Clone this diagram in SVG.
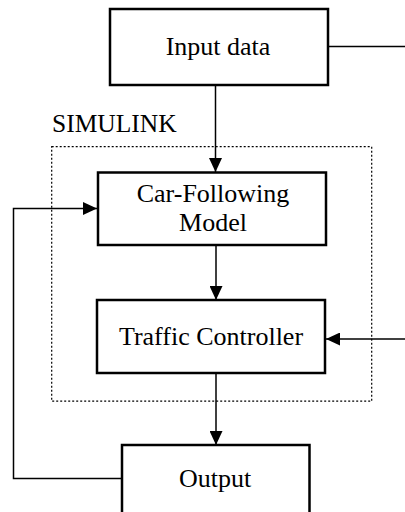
<svg xmlns="http://www.w3.org/2000/svg" width="405" height="512" viewBox="0 0 405 512">
  <style>
    .box { fill: #ffffff; stroke: #000000; stroke-width: 2.5; }
    .lbl { font-family: "Liberation Serif", "Times New Roman", serif; font-size: 26px; fill: #000000; text-anchor: middle; }
    .wire { fill: none; stroke: #000000; stroke-width: 1.5; }
    .frame { fill: none; stroke: #000000; stroke-width: 1.2; stroke-dasharray: 2 2; }
  </style>
  <defs>
    <marker id="arrowBig" viewBox="0 0 14 13" refX="14" refY="6.5" markerWidth="14" markerHeight="13" markerUnits="userSpaceOnUse" orient="auto">
      <path d="M0,0 L14,6.5 L0,13 Z" fill="#000000"/>
    </marker>
  </defs>

  <rect x="0" y="0" width="405" height="512" fill="#ffffff"/>

  <!-- SIMULINK subsystem frame -->
  <g id="simulink">
    <rect class="frame" x="51.7" y="146.7" width="320" height="254.5"/>
    <text x="52" y="132" font-family="Liberation Serif, Times New Roman, serif" font-size="25.5px">SIMULINK</text>
  </g>

  <!-- connectors -->
  <g id="connectors">
    <line class="wire" x1="328" y1="46.5" x2="405" y2="46.5"/>
    <line class="wire" x1="215.5" y1="85" x2="215.5" y2="172" marker-end="url(#arrowBig)"/>
    <line class="wire" x1="216" y1="245" x2="216" y2="300" marker-end="url(#arrowBig)"/>
    <line class="wire" x1="405" y1="339" x2="326" y2="339" marker-end="url(#arrowBig)"/>
    <line class="wire" x1="216" y1="373" x2="216" y2="445" marker-end="url(#arrowBig)"/>
    <polyline class="wire" points="122,478.5 13.5,478.5 13.5,208.5 97,208.5" marker-end="url(#arrowBig)"/>
  </g>

  <g id="input-data">
    <rect class="box" x="110" y="9" width="218" height="76"/>
    <text class="lbl" x="218" y="55">Input data</text>
  </g>

  <g id="car-following">
    <rect class="box" x="98" y="172.5" width="228" height="72.5"/>
    <text class="lbl" x="213" y="202">Car-Following</text>
    <text class="lbl" x="213" y="231">Model</text>
  </g>

  <g id="traffic-controller">
    <rect class="box" x="97" y="300" width="228" height="73"/>
    <text class="lbl" x="211" y="345">Traffic Controller</text>
  </g>

  <g id="output">
    <rect class="box" x="122" y="445" width="187.5" height="80"/>
    <text class="lbl" x="215" y="487">Output</text>
  </g>
</svg>
